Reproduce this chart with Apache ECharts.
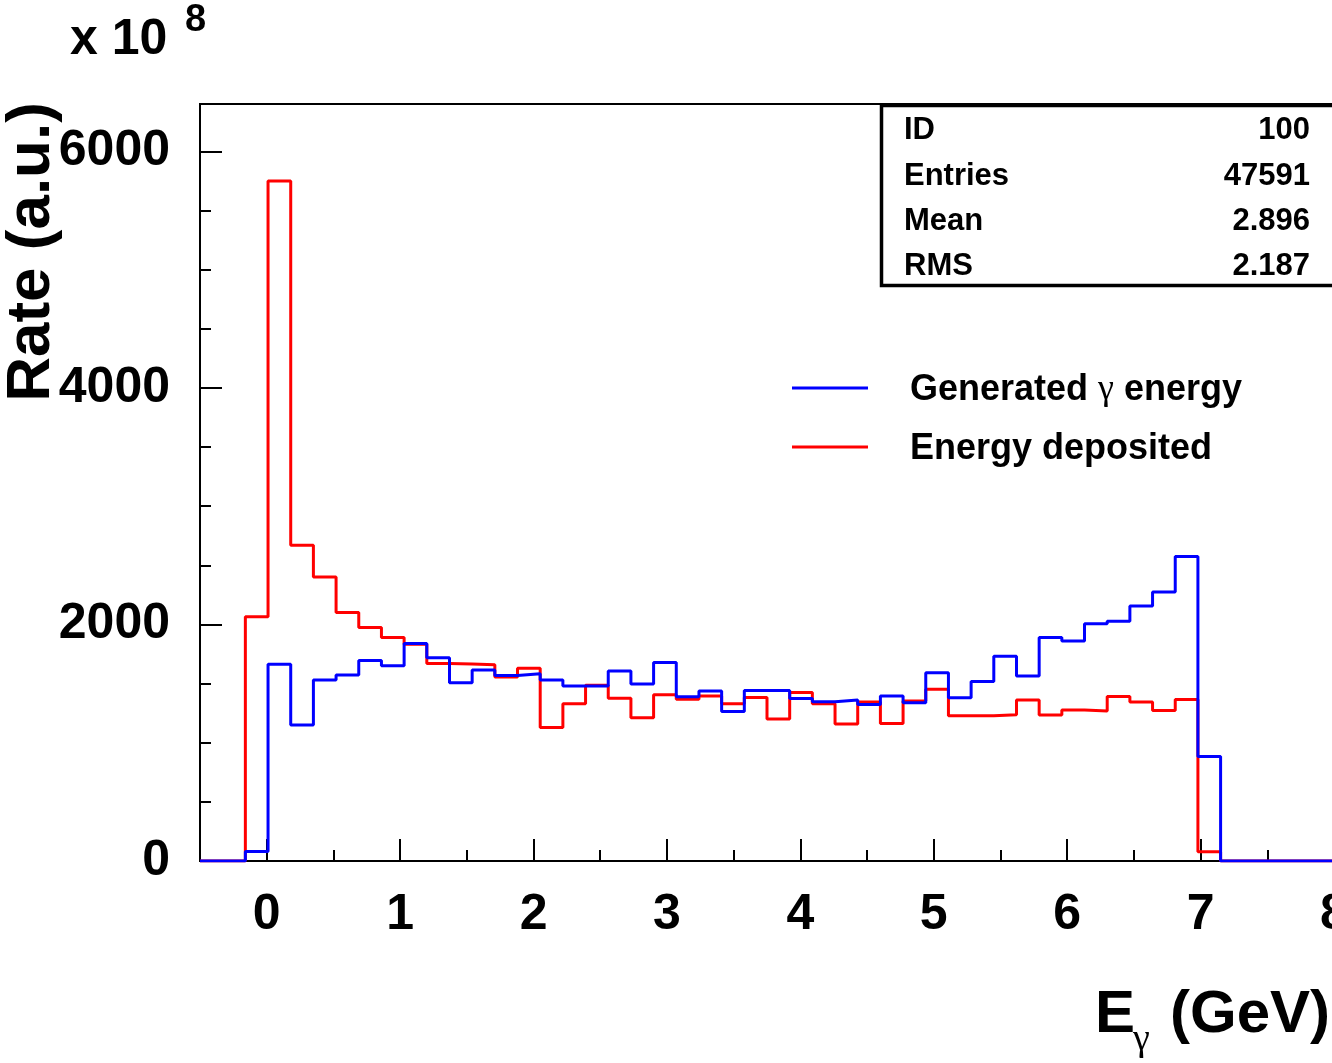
<!DOCTYPE html>
<html>
<head>
<meta charset="utf-8">
<script src="https://cdn.jsdelivr.net/npm/echarts@6/dist/echarts.min.js"></script>
<style>
  html, body { margin: 0; padding: 0; background: #fff; }
  #chart { width: 1332px; height: 1063px; }
</style>
</head>
<body>
<div id="chart"></div>
<script>
// Histogram binning: 50 bins of 0.17 GeV starting at -0.5 GeV
const binLow = -0.5;
const binWidth = 0.17;

// Rate per bin, in units of 10^8
const generated = [
  0, 0, 80, 1664, 1149, 1530, 1572, 1695, 1650, 1839,
  1718, 1507, 1614, 1568, 1583, 1530, 1479, 1480, 1606, 1496,
  1679, 1389, 1437, 1264, 1441, 1441, 1373, 1346, 1361, 1323,
  1394, 1337, 1591, 1380, 1518, 1732, 1565, 1889, 1859, 2005,
  2028, 2155, 2275, 2574, 884, 0, 0, 0, 0, 0
];
const deposited = [
  0, 0, 2065, 5750, 2670, 2402, 2100, 1975, 1890, 1832,
  1670, 1666, 1660, 1556, 1630, 1128, 1329, 1485, 1377, 1211,
  1406, 1368, 1396, 1329, 1382, 1200, 1425, 1329, 1158, 1344,
  1163, 1352, 1451, 1227, 1227, 1236, 1361, 1234, 1276, 1268,
  1390, 1344, 1272, 1366, 79, 0, 0, 0, 0, 0
];

// Axis ticks and labels
const xMajorTicks = [0, 1, 2, 3, 4, 5, 6, 7, 8];
const xMinorTicks = [0.5, 1.5, 2.5, 3.5, 4.5, 5.5, 6.5, 7.5];
const yMajorTicks = [0, 2000, 4000, 6000];
const yMinorTicks = [500, 1000, 1500, 2500, 3000, 3500, 4500, 5000, 5500];

// Statistics box rows
const statNames = ['ID', 'Entries', 'Mean', 'RMS'];
const statValues = ['100', '47591', '2.896', '2.187'];

const seriesNames = ['Generated \u03b3 energy', 'Energy deposited'];

const FONT = '"Liberation Sans", Arial, Helvetica, sans-serif';
const SERIF = '"Liberation Serif", "DejaVu Serif", serif';

// Histogram outline: one point per bin low edge, plus the last bin's high edge
function histPoints(values) {
  const pts = values.map((v, k) => [binLow + k * binWidth, v]);
  pts.push([binLow + values.length * binWidth, values[values.length - 1]]);
  return pts;
}

function axisPair(dim, majors, minors, labelCfg) {
  const common = {
    type: 'value',
    splitLine: { show: false },
    axisLine: { show: false, onZero: false }
  };
  return [
    Object.assign({}, common, {
      position: dim === 'x' ? 'bottom' : 'left',
      axisTick: { show: true, inside: true, length: 22, customValues: majors,
                  lineStyle: { color: '#000', width: 2 } },
      axisLabel: Object.assign({ customValues: majors, color: '#000', fontSize: 50,
                                 fontWeight: 'bold', fontFamily: FONT,
                                 formatter: v => String(v) }, labelCfg)
    }),
    Object.assign({}, common, {
      position: dim === 'x' ? 'bottom' : 'left',
      axisTick: { show: true, inside: true, length: 11, customValues: minors,
                  lineStyle: { color: '#000', width: 2 } },
      axisLabel: { show: false }
    })
  ];
}

const xAxes = axisPair('x', xMajorTicks, xMinorTicks, { margin: 29 });
const yAxes = axisPair('y', yMajorTicks, yMinorTicks, { margin: 30 });
xAxes.forEach(a => { a.min = -0.5; a.max = 8; });
yAxes.forEach(a => { a.min = 0; a.max = 6400; });

function txt(x, y, text, size, opts) {
  return {
    type: 'text', x: x, y: y, z: 100,
    rotation: (opts && opts.rotation) || 0,
    style: {
      text: text, fill: '#000',
      fontSize: size,
      fontWeight: (opts && opts.weight) || 'bold',
      fontFamily: (opts && opts.family) || FONT,
      align: (opts && opts.align) || 'left',
      verticalAlign: 'middle',
      rich: opts && opts.rich
    }
  };
}

const statRowY = [130, 176, 221, 266];
const statsGraphics = [{
  type: 'rect', z: 90,
  shape: { x: 881.5, y: 105.5, width: 470, height: 180 },
  style: { fill: '#fff', stroke: '#000', lineWidth: 3.5 }
}];
statNames.forEach((name, i) => {
  statsGraphics.push(txt(904, statRowY[i], name, 31));
  statsGraphics.push(txt(1310, statRowY[i], statValues[i], 31, { align: 'right' }));
});

const legendRich = {
  b: { fontSize: 36, fontWeight: 'bold', fontFamily: FONT, fill: '#000' },
  g: { fontSize: 36, fontWeight: 'normal', fontFamily: SERIF, fill: '#000' }
};

const option = {
  animation: false,
  backgroundColor: '#fff',
  grid: {
    left: 200, top: 104, width: 1134, height: 757,
    show: true, borderColor: '#000', borderWidth: 2,
    backgroundColor: 'rgba(0,0,0,0)',
    outerBoundsMode: 'none'
  },
  xAxis: xAxes,
  yAxis: yAxes,
  series: [
    {
      name: seriesNames[1], type: 'line', step: 'end',
      xAxisIndex: 0, yAxisIndex: 0,
      data: histPoints(deposited),
      showSymbol: false, symbol: 'none',
      lineStyle: { color: '#ff0000', width: 3 },
      z: 3
    },
    {
      name: seriesNames[0], type: 'line', step: 'end',
      xAxisIndex: 0, yAxisIndex: 0,
      data: histPoints(generated),
      showSymbol: false, symbol: 'none',
      lineStyle: { color: '#0000ff', width: 3 },
      z: 4
    }
  ],
  graphic: [
    // axis titles and exponent
    txt(32, 252, 'Rate (a.u.)', 62, { rotation: Math.PI / 2, align: 'center' }),
    txt(70, 40, 'x 10', 50),
    txt(185, 21, '8', 38),
    txt(1095, 1015, 'E', 60),
    txt(1133, 1040, '\u03b3', 38, { weight: 'normal', family: SERIF }),
    txt(1170, 1015, '(GeV)', 60),
    // legend
    { type: 'line', z: 100, shape: { x1: 792, y1: 388, x2: 868, y2: 388 },
      style: { stroke: '#0000ff', lineWidth: 3 } },
    { type: 'line', z: 100, shape: { x1: 792, y1: 447, x2: 868, y2: 447 },
      style: { stroke: '#ff0000', lineWidth: 3 } },
    txt(910, 390, '{b|Generated }{g|\u03b3}{b| energy}', 36, { rich: legendRich }),
    txt(910, 449, seriesNames[1], 36)
  ].concat(statsGraphics)
};

const chart = echarts.init(document.getElementById('chart'), null, { renderer: 'canvas' });
chart.setOption(option);
</script>
</body>
</html>
